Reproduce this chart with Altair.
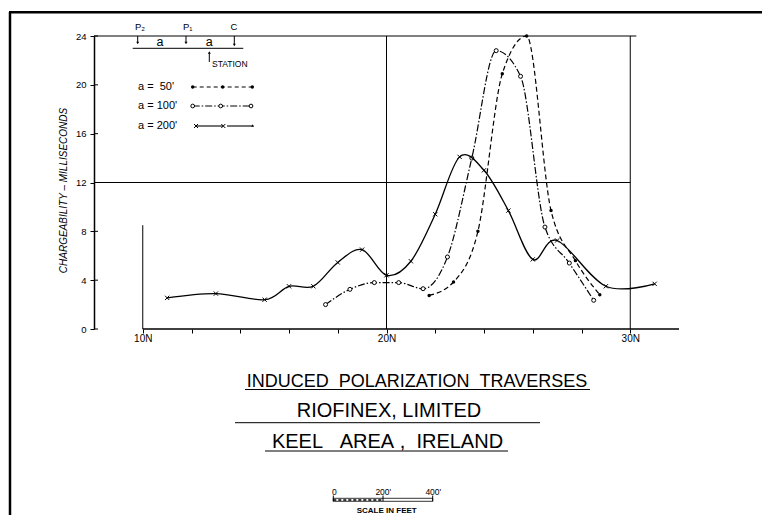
import altair as alt
import pandas as pd

FONT = "Liberation Sans"

# ---- data ----
stations_50 = [21.75, 22.75, 23.75, 24.75, 25.75, 26.75, 27.75, 28.75]
values_50 = [2.75, 3.85, 8.0, 20.9, 24.0, 9.7, 5.6, 2.8]

stations_100 = [17.5, 18.5, 19.5, 20.5, 21.5, 22.5, 23.5, 24.5, 25.5, 26.5, 27.5, 28.5]
values_100 = [2.0, 3.25, 3.8, 3.8, 3.3, 5.9, 14.0, 22.8, 20.7, 8.35, 5.4, 2.35]

stations_200 = [11, 13, 15, 16, 17, 18, 19, 20, 21, 22, 23, 24, 25, 26, 27, 29, 31]
values_200 = [2.55, 2.9, 2.4, 3.5, 3.5, 5.45, 6.5, 4.4, 5.55, 9.4, 14.1, 13.0, 9.7, 5.7, 7.25, 3.5, 3.7]

y_ticks = [0, 4, 8, 12, 16, 20, 24]
x_ticks = [10, 12, 14, 16, 18, 20, 22, 24, 26, 28, 30]
x_labels = ["10N", "20N", "30N"]

legend_labels = ["a =\u00a0\u00a050'", "a = 100'", "a = 200'"]
title1 = "INDUCED\u00a0\u00a0POLARIZATION\u00a0\u00a0TRAVERSES"
title2 = "RIOFINEX, LIMITED"
title3 = "KEEL\u00a0\u00a0\u00a0AREA\u00a0,\u00a0\u00a0IRELAND"
y_title = "CHARGEABILITY – MILLISECONDS"

W, H = 585, 293

xscale = alt.Scale(domain=[8, 32], nice=False, zero=False)
yscale = alt.Scale(domain=[0, 24], nice=False)

xenc = alt.X("x:Q", scale=xscale, axis=alt.Axis(
    values=x_ticks, domain=False, grid=False, ticks=True, tickSize=4,
    tickColor="black", tickWidth=1,
    labelExpr="datum.value % 10 == 0 ? datum.value + 'N' : ''",
    labelFont=FONT, labelFontSize=10, labelColor="black", labelPadding=0,
    title=None))
yenc = alt.Y("y:Q", scale=yscale, axis=alt.Axis(
    values=y_ticks, domain=True, domainColor="black", domainWidth=1.5,
    grid=False, ticks=True, tickSize=4, tickColor="black", tickWidth=1,
    labelFont=FONT, labelFontSize=9.5, labelColor="black", labelPadding=4,
    title=y_title, titleFont=FONT, titleFontSize=10, titleFontStyle="italic",
    titleFontWeight="normal", titleColor="black", titleX=-31, titleY=154,
    titleAngle=270, titleAlign="center", titleBaseline="middle"))

df50 = pd.DataFrame({"x": stations_50, "y": values_50})
df100 = pd.DataFrame({"x": stations_100, "y": values_100})
df200 = pd.DataFrame({"x": stations_200, "y": values_200})

layers = []

# frame / grid lines in data coordinates
frame = pd.DataFrame({
    "x": [8, 20, 30, 8, 10],
    "x2": [30, 20, 30, 30.25, 10],
    "y": [12, 0, 0, 24, 0],
    "y2": [12, 24, 24, 24, 8.5],
})
layers.append(alt.Chart(frame).mark_rule(color="black", strokeWidth=1).encode(
    x=xenc, x2="x2:Q", y=yenc, y2="y2:Q"))
xaxis_line = pd.DataFrame({"x": [10], "x2": [32], "y": [0]})
layers.append(alt.Chart(xaxis_line).mark_rule(color="black", strokeWidth=1.5).encode(
    x=xenc, x2="x2:Q", y=yenc))
# inner halves of the y ticks
ytk = pd.DataFrame({"y": y_ticks})
layers.append(alt.Chart(ytk).mark_rule(color="black", strokeWidth=1).encode(
    x=alt.value(0), x2=alt.value(4), y=yenc))

# series
layers.append(alt.Chart(df50).mark_line(color="black", strokeWidth=1.2, strokeDash=[5, 3],
                                         interpolate="monotone").encode(x=xenc, y=yenc))
layers.append(alt.Chart(df50).mark_point(shape="circle", filled=True, color="black", size=12,
                                          opacity=1).encode(x=xenc, y=yenc))
layers.append(alt.Chart(df100).mark_line(color="black", strokeWidth=1.2, strokeDash=[7, 2, 1.5, 2],
                                          interpolate="monotone").encode(x=xenc, y=yenc))
layers.append(alt.Chart(df100).mark_point(shape="circle", fill="white", stroke="black", strokeWidth=1,
                                           size=16, opacity=1, fillOpacity=1).encode(x=xenc, y=yenc))
layers.append(alt.Chart(df200).mark_line(color="black", strokeWidth=1.3,
                                          interpolate="cardinal").encode(x=xenc, y=yenc))
XSHAPE = "M-1,-1L1,1M-1,1L1,-1"
layers.append(alt.Chart(df200).mark_point(shape=XSHAPE, filled=False, stroke="black", strokeWidth=1,
                                           size=18, opacity=1).encode(x=xenc, y=yenc))

one = pd.DataFrame({"t": [""]})


def txt(s, x, y, size, align="center", baseline="middle", style="normal", weight="normal"):
    return alt.Chart(pd.DataFrame({"t": [s]})).mark_text(
        align=align, baseline=baseline, fontSize=size, font=FONT, fontStyle=style,
        fontWeight=weight, color="black").encode(x=alt.value(x), y=alt.value(y), text="t:N")


def rule(x1, y1, x2, y2, w=1.0, dash=None):
    kw = dict(color="black", strokeWidth=w)
    if dash:
        kw["strokeDash"] = dash
    return alt.Chart(one).mark_rule(**kw).encode(
        x=alt.value(x1), y=alt.value(y1), x2=alt.value(x2), y2=alt.value(y2))


def pt(x, y, shape, size, filled=True, fill="black", sw=1.0):
    if filled:
        m = alt.Chart(one).mark_point(shape=shape, filled=True, color="black", size=size, opacity=1)
    elif fill:
        m = alt.Chart(one).mark_point(shape=shape, fill=fill, stroke="black", strokeWidth=sw,
                                      size=size, opacity=1, fillOpacity=1)
    else:
        m = alt.Chart(one).mark_point(shape=shape, filled=False, stroke="black", strokeWidth=sw,
                                      size=size, opacity=1)
    return m.encode(x=alt.value(x), y=alt.value(y))


# page border
layers.append(rule(-84, -24, -84, 480, 2.5))
layers.append(rule(-85, -23.7, 670, -23.7, 2.5))

# electrode diagram
layers.append(txt("P\u2082", 46, -9, 9.5))
layers.append(txt("P\u2081", 93.7, -9, 9.5))
layers.append(txt("C", 140, -9.5, 9.5))
for ax, ay in [(43.7, 8), (92, 8), (140.3, 10)]:
    layers.append(rule(ax, 0, ax, ay - 2, 1))
    layers.append(pt(ax, ay - 1, "triangle-down", 9))
layers.append(rule(38.7, 12.3, 149.3, 12.3, 1))
layers.append(txt("a", 66, 6, 12.5))
layers.append(txt("a", 115.3, 6, 12.5))
layers.append(rule(115.3, 17, 115.3, 26, 1))
layers.append(pt(115.3, 16.5, "triangle-up", 9))
layers.append(txt("STATION", 118, 27.5, 8.5, align="left"))

# legend
ly = [51, 70, 90]
for lab, yy in zip(legend_labels, ly):
    layers.append(txt(lab, 44, yy, 11, align="left"))
layers.append(rule(98.7, ly[0], 158.3, ly[0], 1, [4, 3]))
for mx in [98.7, 128.7, 158.3]:
    layers.append(pt(mx, ly[0], "circle", 12))
layers.append(rule(98.7, ly[1], 157, ly[1], 1, [7, 2, 1.5, 2]))
for mx in [98.7, 126.7, 157]:
    layers.append(pt(mx, ly[1], "circle", 14, filled=False, fill="white"))
layers.append(rule(102, ly[2], 129.3, ly[2], 1.1))
layers.append(rule(133, ly[2], 158.7, ly[2], 1.1))
for mx in [102, 129.3]:
    layers.append(pt(mx, ly[2], XSHAPE, 16, filled=False, fill=None))
layers.append(pt(158.7, ly[2] - 0.5, "triangle-up", 8))

# titles
layers.append(txt(title1, 323, 350.5, 18, baseline="alphabetic"))
layers.append(rule(151, 353.5, 496, 353.5, 1))
layers.append(txt(title2, 295, 380.7, 20, baseline="alphabetic"))
layers.append(rule(141, 386.7, 446, 386.7, 1))
layers.append(txt(title3, 293.5, 412.3, 20, baseline="alphabetic"))
layers.append(rule(171, 415, 414, 415, 1))

# scale bar
layers.append(txt("0", 240.3, 455.5, 8.5))
layers.append(txt("200'", 289.3, 455.5, 8.5))
layers.append(txt("400'", 339.3, 455.5, 8.5))
layers.append(alt.Chart(one).mark_rect(fill="white", stroke="black", strokeWidth=0.8).encode(
    x=alt.value(239.3), x2=alt.value(338.7), y=alt.value(462.3), y2=alt.value(465.3)))
layers.append(rule(239.3, 464, 289, 464, 1.5, [3, 2]))
for sx in [239.3, 289, 338.7]:
    layers.append(rule(sx, 459.5, sx, 465.3, 1))
layers.append(txt("SCALE IN FEET", 292.7, 475, 8, weight="bold"))

chart = alt.layer(*layers).properties(
    width=W, height=H,
    autosize=alt.AutoSizeParams(type="none"),
    padding={"left": 86, "top": 28, "right": 83, "bottom": 186},
).configure_view(stroke=None)

chart.save("out.html", embed_options={"renderer": "svg", "actions": False})
